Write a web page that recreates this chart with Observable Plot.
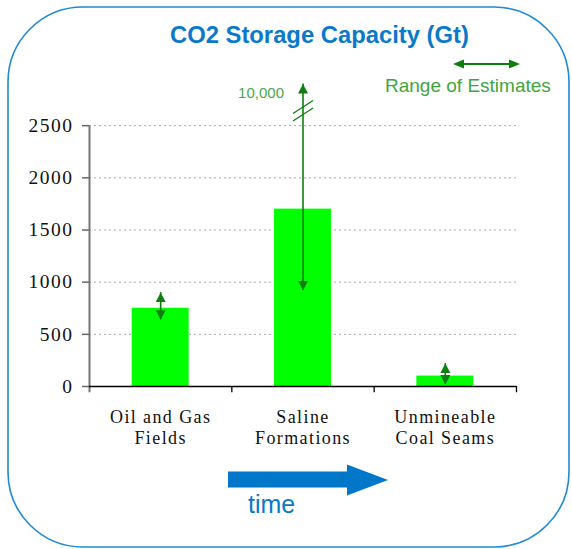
<!DOCTYPE html>
<html><head><meta charset="utf-8">
<script src="https://cdn.jsdelivr.net/npm/d3@7"></script>
<script src="https://cdn.jsdelivr.net/npm/@observablehq/plot@0.6"></script>
<style>
html,body{margin:0;padding:0;background:#fff;}
#chart{width:572px;height:549px;position:relative;}
#chart svg{display:block;}
[aria-label="y-axis tick label"] text{letter-spacing:1.5px}
[aria-label="x-axis tick label"] text{letter-spacing:1.4px}
</style></head><body><div id="chart"></div>
<script>
// ---- data ----
const categories = ["Oil and Gas Fields", "Saline Formations", "Unmineable Coal Seams"];
const categoryLabels = ["Oil and Gas\nFields", "Saline\nFormations", "Unmineable\nCoal Seams"];
const capacity = [750, 1700, 100];          // central estimate (Gt)
const estimateLow = [640, 920, 20];         // low end of range (Gt)
const estimateHigh = [900, 10000, 220];     // high end of range (Gt)
const yTicks = [0, 500, 1000, 1500, 2000, 2500];
const titleText = "CO2 Storage Capacity (Gt)";
const legendText = "Range of Estimates";
const timeText = "time";

// ---- chart settings ----
const W = 572, H = 549;
const mL = 89, mR = 56, mT = 73, mB = 163;
const yMax = 3000;
const axisBreakAt = 2900;   // values above are drawn broken at this level
const breakMarkAt = 2640;   // where the "//" break mark sits
const step = (W - mL - mR) / categories.length;
const serif = "Liberation Serif, Times New Roman, serif";
const sans = "Liberation Sans, Arial, sans-serif";
const green = "#0e7f0e";
const blue = "#0a79c9";

const rows = categories.map((c, i) => ({
  category: c, capacity: capacity[i], low: estimateLow[i], high: estimateHigh[i],
  top: Math.min(estimateHigh[i], axisBreakAt)
}));
const broken = rows.filter(d => d.high > axisBreakAt);

const upHead = {draw(ctx) { ctx.moveTo(0, 0); ctx.lineTo(-5, 9.5); ctx.lineTo(5, 9.5); ctx.closePath(); }};
const downHead = {draw(ctx) { ctx.moveTo(0, 0); ctx.lineTo(-5, -9.5); ctx.lineTo(5, -9.5); ctx.closePath(); }};
const breakSym = {draw(ctx) {
  ctx.moveTo(-10, 2.5); ctx.lineTo(10, -10.5);
  ctx.moveTo(-10, 10); ctx.lineTo(10, -3);
}};

const plot = Plot.plot({
  width: W, height: H,
  marginLeft: mL, marginRight: mR, marginTop: mT, marginBottom: mB,
  style: {background: "transparent", overflow: "visible"},
  x: {domain: categories, paddingInner: 0.6, paddingOuter: 0.3, round: false, label: null},
  y: {domain: [0, yMax], label: null},
  marks: [
    Plot.gridY(yTicks.filter(v => v > 0), {stroke: "#a8a8a8", strokeOpacity: 1, strokeDasharray: "2,3"}),
    Plot.barY(rows, {x: "category", y: "capacity", fill: "#00ff00"}),
    // y axis line and ticks
    Plot.ruleX([categories[0]], {x: d => d, y1: -60, y2: yTicks[yTicks.length - 1], dx: -step / 2, stroke: "#777", strokeWidth: 2}),
    Plot.axisY({ticks: yTicks, tickFormat: d => String(d), tickSize: 7, tickPadding: 9, fontSize: 19.5, fontFamily: serif, stroke: "#666", strokeWidth: 1.5, fill: "#111"}),
    // x axis line, boundary ticks and labels
    Plot.ruleY([0], {stroke: "#000", strokeWidth: 1.3}),
    Plot.ruleX(categories, {x: d => d, y1: 0, y2: -60, dx: step / 2, stroke: "#000", strokeWidth: 1.3}),
    Plot.axisX({tickSize: 0, tickPadding: 21, tickFormat: d => categoryLabels[categories.indexOf(d)], fontSize: 18, fontFamily: serif, lineHeight: 1.2, fill: "#111"}),
    // ranges of estimates
    Plot.ruleX(rows, {x: "category", y1: "low", y2: "top", stroke: green, strokeWidth: 1.6}),
    Plot.dot(rows, {x: "category", y: "top", symbol: upHead, fill: green, stroke: "none"}),
    Plot.dot(rows, {x: "category", y: "low", symbol: downHead, fill: green, stroke: "none"}),
    Plot.dot(broken, {x: "category", y: breakMarkAt, symbol: breakSym, stroke: green, strokeWidth: 1.3, fill: "none"}),
    Plot.text(broken, {x: "category", y: axisBreakAt, text: d => d3.format(",")(d.high), textAnchor: "end", dx: -19, dy: 9, fill: "#48a848", fontSize: 15, fontFamily: sans})
  ]
});
document.getElementById("chart").appendChild(plot);

// ---- decorations ----
const svg = d3.select(plot);
svg.append("rect").attr("x", 8).attr("y", 7).attr("width", 561).attr("height", 540)
  .attr("rx", 75).attr("ry", 75).attr("fill", "none").attr("stroke", "#1f89d6").attr("stroke-width", 1.6);
svg.append("text").attr("x", 170).attr("y", 43).attr("text-anchor", "start").text(titleText)
  .attr("font-family", sans).attr("font-weight", "bold").attr("font-size", 23.8).attr("fill", blue);
// legend
const lg = svg.append("g").attr("fill", green);
lg.append("line").attr("x1", 460).attr("x2", 513).attr("y1", 64).attr("y2", 64).attr("stroke", green).attr("stroke-width", 2);
lg.append("path").attr("d", "M453,64L464,59.5L464,68.5Z");
lg.append("path").attr("d", "M520,64L509,59.5L509,68.5Z");
svg.append("text").attr("x", 385).attr("y", 91.5).attr("text-anchor", "start").text(legendText)
  .attr("font-family", sans).attr("font-size", 19).attr("fill", "#3fa63f");
// time arrow
svg.append("path").attr("d", "M228,471.5L347,471.5L347,464.5L388,480L347,495.5L347,487.5L228,487.5Z").attr("fill", "#0077c8");
svg.append("text").attr("x", 248).attr("y", 513).attr("text-anchor", "start").text(timeText)
  .attr("font-family", sans).attr("font-size", 25).attr("fill", blue);
</script></body></html>
